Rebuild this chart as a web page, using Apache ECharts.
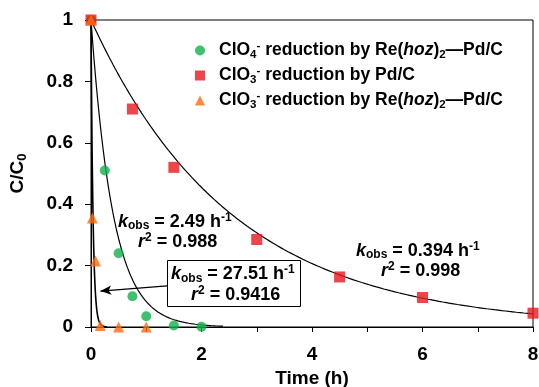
<!DOCTYPE html>
<html>
<head>
<meta charset="utf-8">
<script src="https://cdn.jsdelivr.net/npm/echarts@6/dist/echarts.min.js"></script>
<style>
  html, body { margin: 0; padding: 0; background: #fff; }
  #chart { width: 539px; height: 387px; }
</style>
</head>
<body>
<div id="chart"></div>
<script>
// Measured concentration ratios C/C0 versus time (h)
var timeClO4Re = [0, 0.25, 0.5, 0.75, 1, 1.5, 2];
var ratioClO4Re = [1, 0.51, 0.24, 0.10, 0.035, 0.005, 0.001];

var timeClO3Pd = [0, 0.75, 1.5, 3, 4.5, 6, 8];
var ratioClO3Pd = [1, 0.71, 0.52, 0.285, 0.163, 0.096, 0.045];

var timeClO3Re = [0, 0.025, 0.083, 0.167, 0.5, 1];
var ratioClO3Re = [1, 0.355, 0.215, 0.005, 0, 0];

// Pseudo-first-order rate constants (h^-1) and the time span of each fitted curve
var kObs = [2.49, 0.394, 27.51];
var fitEnd = [2.4, 8, 0.3];

var seriesNames = [
  'ClO4- reduction by Re(hoz)2-Pd/C',
  'ClO3- reduction by Pd/C',
  'ClO3- reduction by Re(hoz)2-Pd/C'
];

var xTicks = [0, 2, 4, 6, 8];

var FONT = '"Liberation Sans", Arial, sans-serif';

function pairs(xs, ys) {
  return xs.map(function (x, i) { return [x, ys[i]]; });
}

// C/C0 = exp(-k t) sampled along the fitted interval
function fitCurve(k, tEnd) {
  var pts = [];
  var n = 240;
  for (var i = 0; i <= n; i++) {
    var t = tEnd * i / n;
    pts.push([t, Math.exp(-k * t)]);
  }
  return pts;
}

function richSet(size, subSize, lh) {
  return {
    b: { fontFamily: FONT, fontWeight: 'bold', fontSize: size, color: '#000', lineHeight: lh, verticalAlign: 'middle' },
    i: { fontFamily: FONT, fontWeight: 'bold', fontStyle: 'italic', fontSize: size, color: '#000', lineHeight: lh, verticalAlign: 'middle' },
    sub: { fontFamily: FONT, fontWeight: 'bold', fontSize: subSize, color: '#000', lineHeight: lh, verticalAlign: 'bottom' },
    sup: { fontFamily: FONT, fontWeight: 'bold', fontSize: subSize, color: '#000', lineHeight: lh, verticalAlign: 'top' }
  };
}

var legendText = {};
legendText[seriesNames[0]] = '{b|ClO}{sub|4}{sup|-}{b| reduction by Re(}{i|hoz}{b|)}{sub|2}{b|\u2014Pd/C}';
legendText[seriesNames[1]] = '{b|ClO}{sub|3}{sup|-}{b| reduction by Pd/C}';
legendText[seriesNames[2]] = '{b|ClO}{sub|3}{sup|-}{b| reduction by Re(}{i|hoz}{b|)}{sub|2}{b|\u2014Pd/C}';

var colors = ['#10B14B', '#E8161B', '#FF6A0A'];

var chart = echarts.init(document.getElementById('chart'), null, { renderer: 'canvas' });

var lineStyleFit = { color: '#000', width: 1.2 };

var option = {
  animation: false,
  backgroundColor: '#fff',
  grid: {
    left: 91, right: 6, top: 20, bottom: 60,
    containLabel: false,
    outerBoundsMode: 'none',
    show: true, borderColor: '#000', borderWidth: 1, backgroundColor: 'transparent'
  },
  legend: {
    orient: 'vertical',
    left: 190, top: 35,
    itemWidth: 10, itemHeight: 10,
    itemGap: 4,
    selectedMode: false,
    data: [
      { name: seriesNames[0], icon: 'circle' },
      { name: seriesNames[1], icon: 'rect' },
      { name: seriesNames[2], icon: 'triangle' }
    ],
    formatter: function (name) { return legendText[name]; },
    textStyle: { rich: richSet(17.5, 11.5, 21), padding: [0, 0, 0, 9] }
  },
  xAxis: {
    type: 'value',
    min: 0, max: 8, interval: 1,
    name: 'Time (h)',
    nameLocation: 'middle',
    nameGap: 40,
    nameTextStyle: { fontFamily: FONT, fontWeight: 'bold', fontSize: 19, color: '#000' },
    axisLine: { show: true, lineStyle: { color: '#000', width: 1 } },
    axisTick: { show: true, inside: false, length: 5, lineStyle: { color: '#000' } },
    axisLabel: {
      margin: 18,
      fontFamily: FONT, fontWeight: 'bold', fontSize: 19, color: '#000',
      formatter: function (v) { return xTicks.indexOf(v) >= 0 ? String(v) : ''; }
    },
    splitLine: { show: false }
  },
  yAxis: {
    type: 'value',
    min: 0, max: 1, interval: 0.2,
    name: '{b|C/C}{sub|0}',
    nameLocation: 'middle',
    nameGap: 62,
    nameRotate: 90,
    nameTextStyle: {
      rich: {
        b: { fontFamily: FONT, fontWeight: 'bold', fontSize: 19, color: '#000', lineHeight: 22, verticalAlign: 'middle' },
        sub: { fontFamily: FONT, fontWeight: 'bold', fontSize: 13, color: '#000', lineHeight: 22, verticalAlign: 'bottom' }
      }
    },
    axisLine: { show: true, lineStyle: { color: '#000', width: 1 } },
    axisTick: { show: true, inside: false, length: 6, lineStyle: { color: '#000' } },
    axisLabel: {
      margin: 18,
      fontFamily: FONT, fontWeight: 'bold', fontSize: 19, color: '#000'
    },
    splitLine: { show: false }
  },
  series: [
    // fitted first-order decay curves
    {
      name: 'fit-clo4-re', type: 'line', data: fitCurve(kObs[0], fitEnd[0]),
      showSymbol: false, symbol: 'none', lineStyle: lineStyleFit, z: 2, silent: true
    },
    {
      name: 'fit-clo3-pd', type: 'line', data: fitCurve(kObs[1], fitEnd[1]),
      showSymbol: false, symbol: 'none', lineStyle: lineStyleFit, z: 2, silent: true
    },
    {
      name: 'fit-clo3-re', type: 'line', data: fitCurve(kObs[2], fitEnd[2]),
      showSymbol: false, symbol: 'none', lineStyle: { color: '#000', width: 1.6 }, z: 2, silent: true,
      markLine: {
        silent: true,
        symbol: ['none', 'arrow'],
        symbolSize: [7, 11],
        label: { show: false },
        lineStyle: { color: '#000', width: 1.2, type: 'solid' },
        data: [[{ coord: [1.375, 0.134] }, { coord: [0.17, 0.117] }]]
      }
    },
    // measured points
    {
      name: seriesNames[0], type: 'scatter', data: pairs(timeClO4Re, ratioClO4Re),
      symbol: 'circle', symbolSize: 10, itemStyle: { color: colors[0] }, z: 4
    },
    {
      name: seriesNames[1], type: 'scatter', data: pairs(timeClO3Pd, ratioClO3Pd),
      symbol: 'rect', symbolSize: 11, itemStyle: { color: colors[1] }, z: 5
    },
    {
      name: seriesNames[2], type: 'scatter', data: pairs(timeClO3Re, ratioClO3Re),
      symbol: 'triangle', symbolSize: 11, itemStyle: { color: colors[2] }, z: 6
    }
  ],
  graphic: [
    {
      type: 'text', left: 118, top: 212, z: 10,
      style: {
        text: '{i|k}{sub|obs}{b| = 2.49 h}{sup|-1}\n{b|    }{i|r}{sup|2}{b| = 0.988}',
        rich: richSet(18, 12, 20)
      }
    },
    {
      type: 'rect', z: 9,
      shape: { x: 167.5, y: 260.5, width: 133, height: 46 },
      style: { fill: '#fff', stroke: '#000', lineWidth: 1 }
    },
    {
      type: 'text', left: 171, top: 264, z: 10,
      style: {
        text: '{i|k}{sub|obs}{b| = 27.51 h}{sup|-1}\n{b|    }{i|r}{sup|2}{b| = 0.9416}',
        rich: richSet(18, 12, 21)
      }
    },
    {
      type: 'text', left: 356, top: 241, z: 10,
      style: {
        text: '{i|k}{sub|obs}{b| = 0.394 h}{sup|-1}\n{b|     }{i|r}{sup|2}{b| = 0.998}',
        rich: richSet(18, 12, 20)
      }
    }
  ]
};

chart.setOption(option);
</script>
</body>
</html>
